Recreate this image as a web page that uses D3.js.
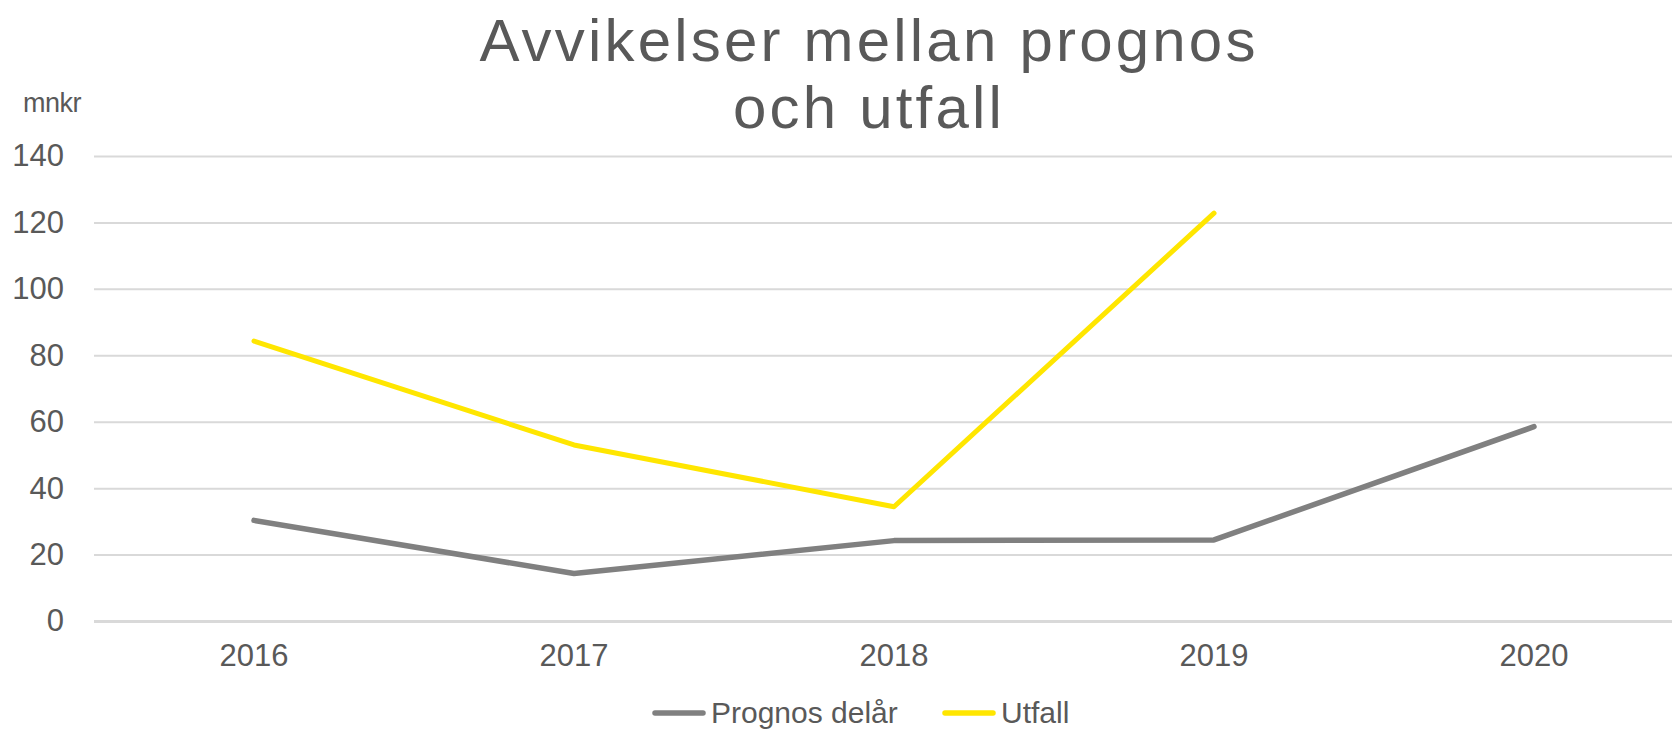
<!DOCTYPE html>
<html lang="sv">
<head>
    <meta charset="UTF-8">
    <title>Avvikelser mellan prognos och utfall</title>
    <script src="https://cdn.jsdelivr.net/npm/d3@7"></script>
    <style>
        body { margin: 0; background: #fff; overflow: hidden; }
        text { font-family: "Liberation Sans", Arial, sans-serif; fill: #595959; }
    </style>
</head>
<body>
<script>
    // chart size
    var w = 1672;
    var h = 732;

    var years = ["2016", "2017", "2018", "2019", "2020"];
    var prognos = [30.3, 14.3, 24.2, 24.4, 58.5];
    var utfall = [84.3, 53.0, 34.4, 122.8];
    var yTicks = [0, 20, 40, 60, 80, 100, 120, 140];
    var seriesNames = ["Prognos delår", "Utfall"];
    var seriesColors = ["#808080", "#FFE600"];

    var xScale = d3.scaleBand()
        .domain(years)
        .range([94, 1694]);

    var yScale = d3.scaleLinear()
        .domain([0, 140])
        .range([621, 156]);

    var svg = d3.select("body")
        .append("svg")
        .attr("width", w)
        .attr("height", h);

    // title, two lines
    svg.selectAll(".title")
        .data(["Avvikelser mellan prognos", "och utfall"])
        .enter()
        .append("text")
        .attr("class", "title")
        .attr("x", 869)
        .attr("y", function(d, i) { return 61 + i * 67; })
        .attr("text-anchor", "middle")
        .style("font-size", "60px")
        .style("font-weight", "300")
        .style("letter-spacing", "3.2px")
        .text(function(d) { return d; });

    // unit label
    svg.append("text")
        .attr("x", 23)
        .attr("y", 112)
        .style("font-size", "27px")
        .style("letter-spacing", "-0.5px")
        .text("mnkr");

    // y axis with gridlines
    var yAxis = d3.axisLeft(yScale)
        .tickValues(yTicks)
        .tickSize(-(w - 94))
        .tickPadding(30);

    var gy = svg.append("g")
        .attr("transform", "translate(94,0)")
        .call(yAxis);
    gy.select(".domain").remove();
    gy.selectAll(".tick line")
        .attr("stroke", "#d9d9d9")
        .attr("stroke-width", function(d) { return d === 0 ? 3 : 2; });
    gy.selectAll(".tick text")
        .style("font-size", "31px")
        .attr("fill", "#595959");

    // x axis labels
    var xAxis = d3.axisBottom(xScale)
        .tickSize(0)
        .tickPadding(23);
    var gx = svg.append("g")
        .attr("transform", "translate(0,621)")
        .call(xAxis);
    gx.select(".domain").remove();
    gx.selectAll(".tick text")
        .style("font-size", "31px")
        .attr("fill", "#595959");

    var line = d3.line()
        .x(function(d, i) { return xScale(years[i]) + xScale.bandwidth() / 2; })
        .y(function(d) { return yScale(d); });

    [prognos, utfall].forEach(function(series, k) {
        svg.append("path")
            .datum(series)
            .attr("fill", "none")
            .attr("stroke", seriesColors[k])
            .attr("stroke-width", k === 0 ? 5.5 : 5)
            .attr("stroke-linejoin", "round")
            .attr("stroke-linecap", "round")
            .attr("d", line);
    });

    // legend (sits at the bottom edge like the original)
    var legendX = [653, 943];
    var legend = svg.selectAll(".legend")
        .data(seriesNames)
        .enter()
        .append("g")
        .attr("class", "legend")
        .attr("transform", function(d, i) { return "translate(" + legendX[i] + ",713)"; });
    legend.append("line")
        .attr("x1", 2)
        .attr("x2", 50)
        .attr("stroke", function(d, i) { return seriesColors[i]; })
        .attr("stroke-width", 5.5)
        .attr("stroke-linecap", "round");
    legend.append("text")
        .attr("x", 58)
        .attr("y", 10)
        .style("font-size", "30px")
        .text(function(d) { return d; });
</script>
</body>
</html>
